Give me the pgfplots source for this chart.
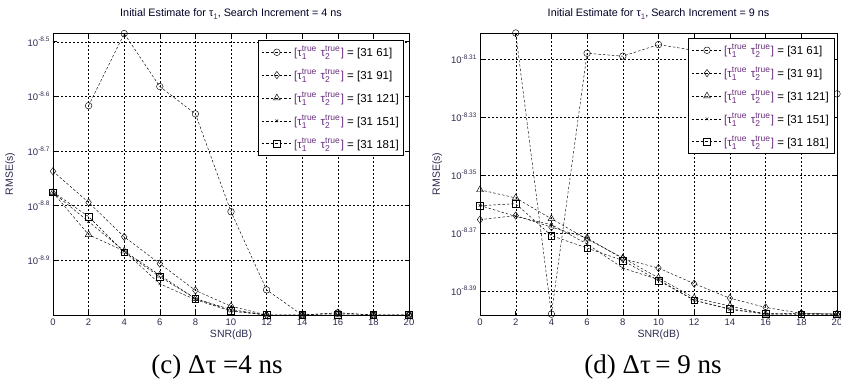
\documentclass[border=0pt]{standalone}
\usepackage{fontspec}
\setmainfont{Liberation Sans}
\newfontfamily\timesfont{Liberation Serif}
\usepackage{pgfplots}
\pgfplotsset{compat=1.18}
\definecolor{tickc}{RGB}{45,45,80}
\definecolor{tauc}{RGB}{105,45,125}
\newcommand{\tl}[1]{τ\rlap{\raisebox{-0.5ex}{\fontsize{8.5}{8.5}\selectfont #1}}\raisebox{0.8ex}{\fontsize{8.5}{8.5}\selectfont true}}
\newcommand{\leg}[1]{{\color{tauc}[\tl{1}\hspace{1pt} \tl{2}\hspace{1pt}]} = [31 #1]}
\newcommand{\tp}[1]{10\raisebox{0.9ex}{\fontsize{6.5}{6.5}\selectfont #1}}

\pgfplotstableread{
x  a       b       c       d       e
0  nan     -8.737  -8.776  -8.776  -8.775
2  -8.617  -8.794  -8.853  -8.829  -8.820
4  -8.485  -8.857  -8.883  -8.883  -8.885
6  -8.582  -8.906  -8.927  -8.943  -8.930
8  -8.632  -8.955  -8.970  -8.972  -8.970
10 -8.811  -8.984  -8.990  -8.993  -8.992
12 -8.954  -9.000  -9.000  -9.000  -9.000
14 -9.000  -9.000  -9.000  -9.000  -9.000
16 -8.996  -8.996  -9.000  -9.000  -9.000
18 -9.000  -9.000  -9.000  -9.000  -9.000
20 -9.000  -9.000  -9.000  -9.000  -9.000
}\tabL

\pgfplotstableread{
x  a       b        c        d        e
0  nan     -8.3654  -8.3551  -8.3605  -8.3606
2  -8.301  -8.3640  -8.3579  -8.3643  -8.3599
4  -8.398  -8.3680  -8.3651  -8.3671  -8.3709
6  -8.308  -8.3717  -8.3721  -8.3738  -8.3752
8  -8.309  -8.3789  -8.3786  -8.3821  -8.3795
10 -8.305  -8.3821  -8.3855  -8.3861  -8.3864
12 -8.307  -8.3875  -8.3924  -8.3932  -8.3932
14 -8.311  -8.3925  -8.3952  -8.3964  -8.3962
16 -8.314  -8.3957  -8.3980  -8.3980  -8.3978
18 -8.318  -8.3977  -8.3977  -8.3980  -8.3980
20 -8.322  -8.3980  -8.3980  -8.3980  -8.3980
}\tabR

\pgfplotsset{
  myax/.style={
    scale only axis, width=356pt, height=282pt,
    anchor=south west,
    xmin=0, xmax=20,
    xtick={0,2,...,20},
    xticklabels={0,2,4,6,8,10,12,14,16,18,20},
    grid=major,
    major grid style={black, dash pattern=on 2pt off 2pt, line width=0.4pt},
    tick align=inside,
    major tick length=4pt,
    axis line style={black, line width=0.6pt},
    tick style={black, line width=0.5pt},
    tick label style={font=\fontsize{9.5}{10}\selectfont, text=tickc},
    xlabel={SNR(dB)},
    ylabel={RMSE(s)},
    label style={font=\fontsize{10.5}{11}\selectfont, text=tickc},
    xlabel style={at={(axis description cs:0.5,0)}, anchor=base, yshift=-23pt},
    ylabel style={at={(axis description cs:-0.12,0.5)}, anchor=center},
    title style={font=\fontsize{10.8}{12}\selectfont, text=black!85!blue, at={(axis description cs:0.5,1)}, anchor=base, yshift=10pt},
    clip=false,
    legend style={draw=black, line width=0.6pt, fill=white, font=\fontsize{11.5}{12}\selectfont,
      cells={anchor=west}, row sep=7pt, inner ysep=4pt, inner xsep=3pt},
    legend image code/.code={\draw[mark repeat=2,mark phase=2] plot coordinates {(0pt,0pt) (15pt,0pt) (30pt,0pt)};},
  },
  pl/.style={black, line width=0.45pt, dash pattern=on 2.5pt off 2pt},
}
\tikzset{
  mkc/.style={mark=o, mark size=3.3pt, mark options={solid, fill=none}},
  mkd/.style={mark=diamond, mark size=3.7pt, mark options={solid, fill=none}},
  mkt/.style={mark=triangle, mark size=3.9pt, mark options={solid, fill=none}},
  mkx/.style={mark=x, mark size=1.9pt, mark options={solid}},
  mks/.style={mark=square, mark size=3.3pt, mark options={solid, fill=none}},
}

\begin{document}
\begin{tikzpicture}
\path[use as bounding box] (0pt,0pt) rectangle (841pt,387pt);

\begin{axis}[myax, at={(53pt,72pt)},
  ymin=-9.0, ymax=-8.484,
  ytick={-8.9,-8.8,-8.7,-8.6,-8.5},
  yticklabels={\tp{-8.9},\tp{-8.8},\tp{-8.7},\tp{-8.6},\tp{-8.5}},
  title={Initial Estimate for τ\raisebox{-0.5ex}{\fontsize{8}{8}\selectfont\color{tauc}1}, Search Increment = 4 ns},
  legend style={at={(axis description cs:0.986,0.975)}, anchor=north east},
]
\addplot[pl, mkc] table[x=x, y=a] {\tabL};
\addplot[pl, mkd] table[x=x, y=b] {\tabL};
\addplot[pl, mkt] table[x=x, y=c] {\tabL};
\addplot[pl, mkx] table[x=x, y=d] {\tabL};
\addplot[pl, mks] table[x=x, y=e] {\tabL};
\legend{\leg{61},\leg{91},\leg{121},\leg{151},\leg{181}}
\end{axis}

\begin{axis}[myax, at={(480pt,72pt)}, width=357pt,
  ymin=-8.3983, ymax=-8.301,
  ytick={-8.39,-8.37,-8.35,-8.33,-8.31},
  yticklabels={\tp{-8.39},\tp{-8.37},\tp{-8.35},\tp{-8.33},\tp{-8.31}},
  title={Initial Estimate for τ\raisebox{-0.5ex}{\fontsize{8}{8}\selectfont\color{tauc}1}, Search Increment = 9 ns},
  legend style={at={(axis description cs:0.992,0.982)}, anchor=north east},
]
\addplot[pl, mkc] table[x=x, y=a] {\tabR};
\addplot[pl, mkd] table[x=x, y=b] {\tabR};
\addplot[pl, mkt] table[x=x, y=c] {\tabR};
\addplot[pl, mkx] table[x=x, y=d] {\tabR};
\addplot[pl, mks] table[x=x, y=e] {\tabR};
\legend{\leg{61},\leg{91},\leg{121},\leg{151},\leg{181}}
\end{axis}

\node[font=\timesfont\fontsize{27}{29}\selectfont, anchor=center] at (217pt,20pt) {(c) Δτ =4 ns};
\node[font=\timesfont\fontsize{27}{29}\selectfont, anchor=center] at (653pt,20pt) {(d) Δτ\,= 9 ns};
\end{tikzpicture}
\end{document}
